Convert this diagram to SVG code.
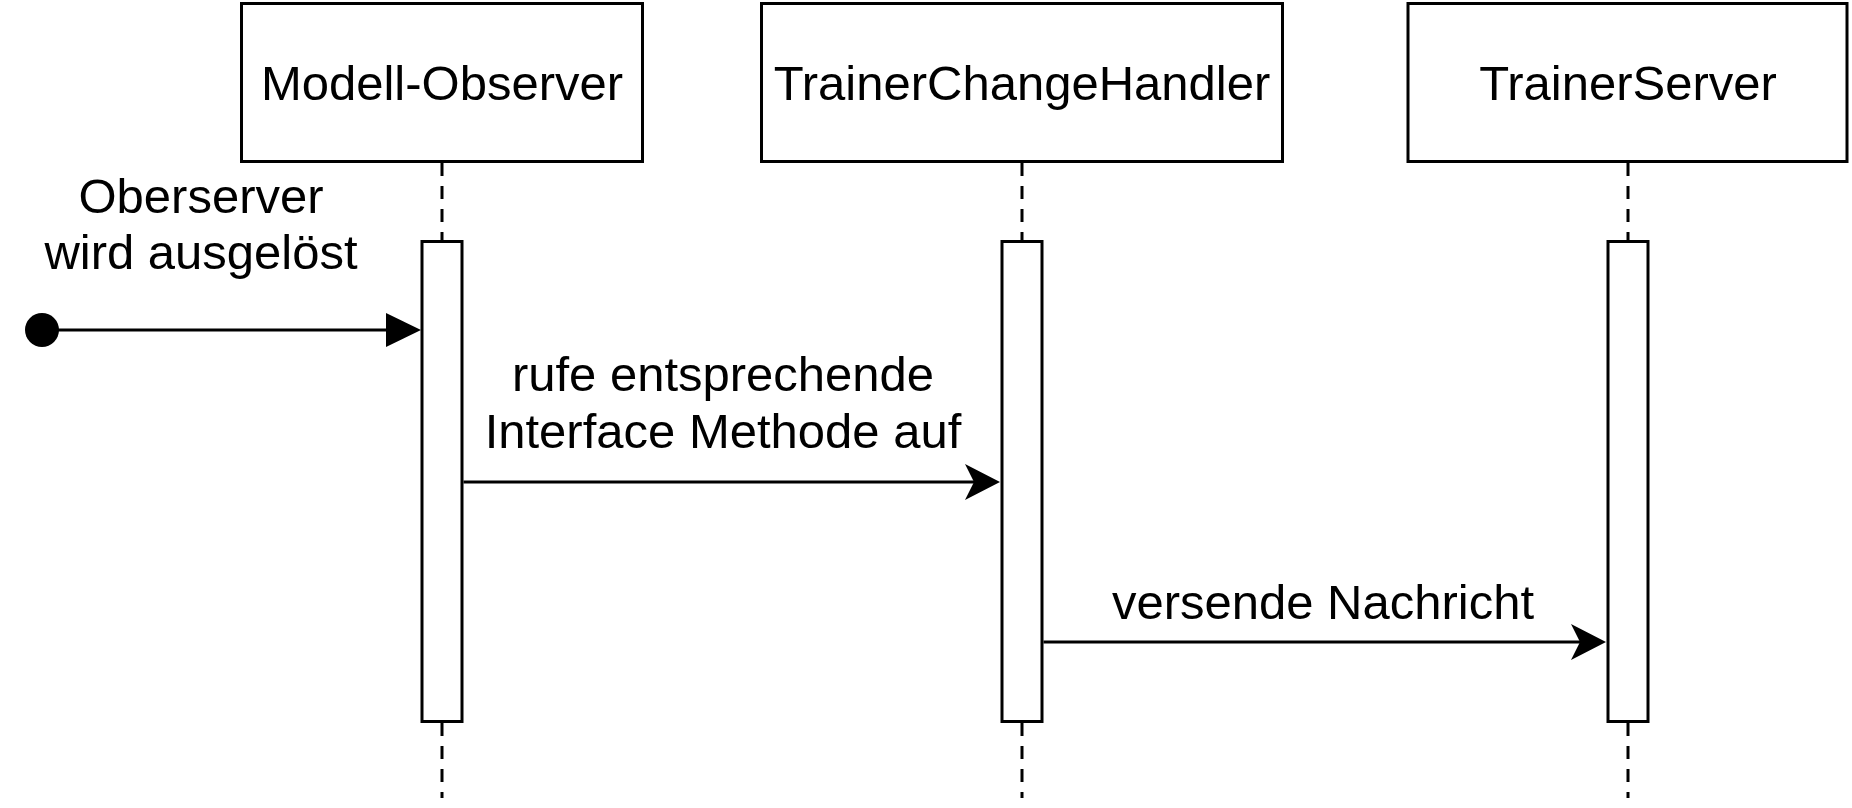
<svg xmlns="http://www.w3.org/2000/svg" width="1852" height="808" viewBox="0 0 1852 808">
  <style>
    .box { fill: #ffffff; stroke: #000000; stroke-width: 3; }
    .life { stroke: #000000; stroke-width: 3; stroke-dasharray: 13 10; fill: none; }
    .msg { stroke: #000000; stroke-width: 3; fill: none; }
    .t { font-family: "Liberation Sans", Arial, Helvetica, sans-serif; font-size: 49px; fill: #000000; text-anchor: middle; }
  </style>
  <defs>
    <marker id="classic" markerUnits="userSpaceOnUse" markerWidth="36" markerHeight="38" refX="9" refY="18" orient="auto" overflow="visible">
      <path d="M0,0 L35,18 L0,36 L9,18 Z" fill="#000000"/>
    </marker>
    <marker id="block" markerUnits="userSpaceOnUse" markerWidth="36" markerHeight="36" refX="0" refY="17" orient="auto" overflow="visible">
      <path d="M0,0 L35,17 L0,34 Z" fill="#000000"/>
    </marker>
  </defs>
  <rect width="1852" height="808" fill="#ffffff"/>

  <g id="lifelines">
    <line class="life" x1="442" y1="163" x2="442" y2="241"/>
    <line class="life" x1="442" y1="723" x2="442" y2="798"/>
    <line class="life" x1="1022" y1="163" x2="1022" y2="241"/>
    <line class="life" x1="1022" y1="723" x2="1022" y2="798"/>
    <line class="life" x1="1628" y1="163" x2="1628" y2="241"/>
    <line class="life" x1="1628" y1="723" x2="1628" y2="798"/>
  </g>

  <g id="node-modell-observer">
    <rect class="box" x="241.5" y="3.5" width="401" height="158"/>
    <text class="t" x="442" y="100">Modell-Observer</text>
  </g>
  <g id="node-trainerchangehandler">
    <rect class="box" x="761.5" y="3.5" width="521" height="158"/>
    <text class="t" x="1022" y="100">TrainerChangeHandler</text>
  </g>
  <g id="node-trainerserver">
    <rect class="box" x="1408" y="3.5" width="439" height="158"/>
    <text class="t" x="1628" y="100">TrainerServer</text>
  </g>

  <g id="activation-modell-observer">
    <rect class="box" x="422" y="241.5" width="40" height="480"/>
  </g>
  <g id="activation-trainerchangehandler">
    <rect class="box" x="1002" y="241.5" width="40" height="480"/>
  </g>
  <g id="activation-trainerserver">
    <rect class="box" x="1608" y="241.5" width="40" height="480"/>
  </g>

  <g id="connectors">
    <circle cx="42" cy="330" r="17" fill="#000000"/>
    <line class="msg" x1="42" y1="330" x2="386" y2="330" marker-end="url(#block)"/>
    <line class="msg" x1="463.5" y1="482" x2="974" y2="482" marker-end="url(#classic)"/>
    <line class="msg" x1="1043.5" y1="642" x2="1580" y2="642" marker-end="url(#classic)"/>
  </g>

  <g id="labels">
    <text class="t" x="201" y="213">Oberserver</text>
    <text class="t" x="201" y="269">wird ausgelöst</text>
    <text class="t" x="723" y="391">rufe entsprechende</text>
    <text class="t" x="723" y="448">Interface Methode auf</text>
    <text class="t" x="1323" y="619">versende Nachricht</text>
  </g>
</svg>
